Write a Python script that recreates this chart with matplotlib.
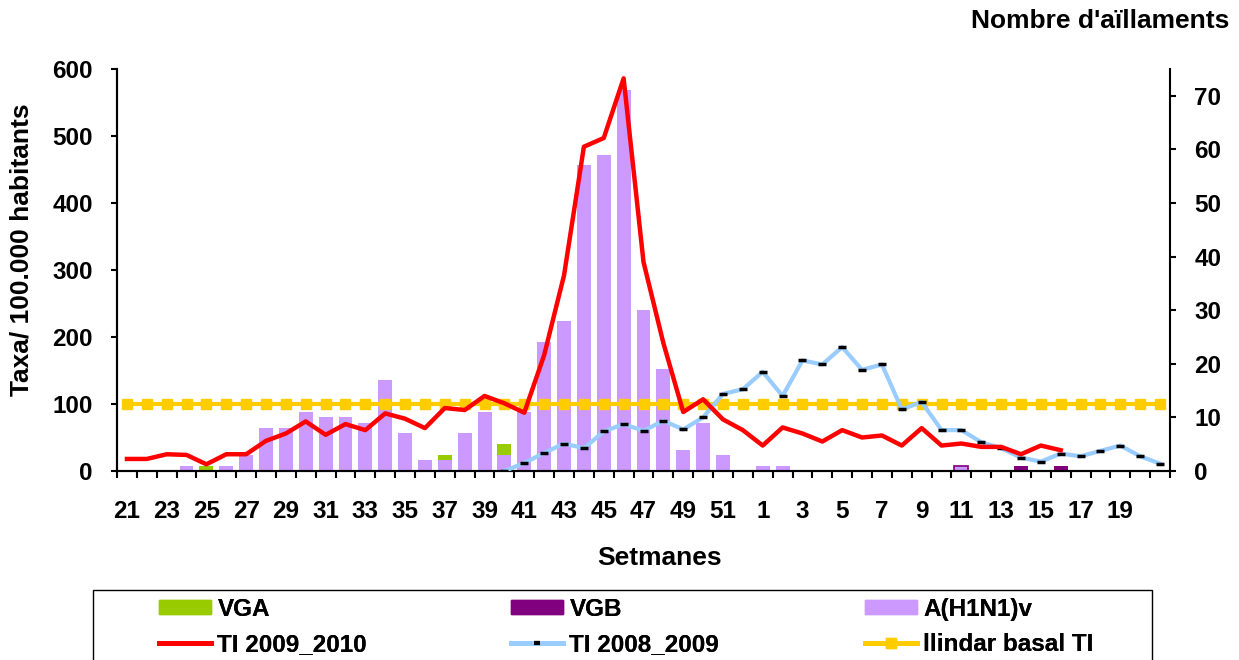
import matplotlib
matplotlib.use('Agg')
import matplotlib.pyplot as plt
import matplotlib.patches as patches
from matplotlib.lines import Line2D
import numpy as np

plt.rcParams['font.family'] = ['Liberation Sans', 'DejaVu Sans']
plt.rcParams['font.weight'] = 'bold'

# ========== Data ==========
weeks = list(range(21, 53)) + list(range(1, 22))

# isolations (right axis)
h1n1 = [0, 0, 0, 1, 0, 1, 3, 8, 8, 11, 10, 10, 9, 17, 7, 2, 2, 7, 11, 3,
        11, 24, 28, 57, 59, 71, 30, 19, 4, 9, 3, 0,
        1, 1, 0, 0, 0, 0, 0, 0, 0, 0, 1, 0, 0, 0, 0, 0, 0, 0, 0, 0, 0]
vga = [0, 0, 0, 0, 1, 0, 0, 0, 0, 0, 0, 0, 0, 0, 0, 0, 1, 0, 0, 2,
       0, 0, 0, 0, 0, 0, 0, 0, 0, 0, 0, 0,
       0, 0, 0, 0, 0, 0, 0, 0, 0, 0, 0, 0, 0, 0, 0, 0, 0, 0, 0, 0, 0]
vgb = [0, 0, 0, 0, 0, 0, 0, 0, 0, 0, 0, 0, 0, 0, 0, 0, 0, 0, 0, 0,
       0, 0, 0, 0, 0, 0, 0, 0, 0, 0, 0, 0,
       0, 0, 0, 0, 0, 0, 0, 0, 0, 0, 0, 0, 0, 1, 0, 1, 0, 0, 0, 0, 0]

# rates per 100.000 (left axis)
ti_0910 = [18, 18, 25, 24, 10, 25, 25, 45, 56, 74, 54, 70, 61, 86, 78, 64, 94, 91, 112, 101,
           87, 173, 292, 484, 497, 586, 312, 191, 88, 107, 77, 61,
           38, 65, 56, 44, 61, 50, 53, 38, 64, 38, 41, 36, 36, 25, 38, 31]
ti_0809 = [None] * 19 + [0, 12, 27, 41, 34, 59, 70, 60, 75, 62, 80, 115, 122,
                         148, 112, 165, 159, 185, 151, 159, 92, 103, 61, 61, 43, 34, 20, 14, 26,
                         22, 30, 38, 22, 11]
threshold = [100] * len(weeks)

x = np.arange(len(weeks))
W, H = 1239, 660
FS = 17.5

# ========== Figure ==========
fig = plt.figure(figsize=(W / 100, H / 100), dpi=100)
ax = fig.add_axes([117 / W, 1 - 471 / H, (1170 - 117) / W, (471 - 69) / H])
ax2 = ax.twinx()
ax.set_zorder(ax2.get_zorder() + 1)
ax.patch.set_visible(False)

# bars on right axis
bw = 0.7
h1n1_a = np.array(h1n1)
vga_a = np.array(vga)
vgb_a = np.array(vgb)
ax2.bar(x, h1n1_a, bw, color='#CC99FF', edgecolor='none')
ax2.bar(x, vga_a, bw, bottom=h1n1_a, color='#99CC00', edgecolor='none')
ax2.bar(x, vgb_a, bw, bottom=h1n1_a + vga_a, color='#800080', edgecolor='none')
# week 11 bar has a purple outline
i11 = weeks.index(11, 32)
ax2.bar([x[i11]], [h1n1[i11]], bw, color='#CC99FF', edgecolor='#800080', linewidth=1.2)

# lines on left axis
ax.plot(x, threshold, color='#FFCC00', linewidth=3, marker='s', markersize=7,
        markeredgecolor='#FFCC00', zorder=3)
ax.plot(x[:len(ti_0910)], ti_0910, color='#FF0000', linewidth=3.2, zorder=4)
ti_0809_x = [i for i, v in enumerate(ti_0809) if v is not None]
ti_0809_y = [v for v in ti_0809 if v is not None]
ax.plot(ti_0809_x, ti_0809_y, color='#99CCFF', linewidth=3, marker='_', markersize=6,
        markeredgecolor='black', markeredgewidth=2.5, zorder=3.5)

# axes
ax.set_xlim(-0.5, len(weeks) - 0.5)
ax.set_ylim(0, 600)
ax2.set_ylim(0, 75)
ax.set_yticks(range(0, 601, 100))
ax2.set_yticks(range(0, 71, 10))

ax.set_xticks(np.arange(-0.5, len(weeks), 1))
ax.set_xticklabels([])
lab_pos = [i for i in range(0, len(weeks) - 1, 2)]
ax.set_xticks(lab_pos, minor=True)
ax.set_xticklabels([str(weeks[i]) for i in lab_pos], minor=True)
ax.tick_params(axis='x', which='major', length=5, width=1.5, direction='out')
ax.tick_params(axis='x', which='minor', length=0, pad=21, labelsize=FS)
ax.tick_params(axis='y', length=4.5, width=1.5, labelsize=FS, pad=13)
ax2.tick_params(axis='y', length=4.5, width=1.5, labelsize=FS, pad=13)

for a in (ax, ax2):
    a.spines['top'].set_visible(False)
    for s in ('left', 'right', 'bottom'):
        a.spines[s].set_linewidth(1.5)
ax.spines['right'].set_visible(False)

for lbl in ax.get_xticklabels(minor=True) + ax.get_yticklabels() + ax2.get_yticklabels():
    lbl.set_fontweight('bold')

fig.text(22 / W, 1 - 250 / H, 'Taxa/ 100.000 habitants', rotation=90,
         ha='center', va='center', fontsize=19, fontweight='bold')
fig.text(660 / W, 1 - 558 / H, 'Setmanes', ha='center', va='center',
         fontsize=19, fontweight='bold')
fig.text(1229 / W, 1 - 21 / H, "Nombre d'aïllaments", ha='right', va='center',
         fontsize=19, fontweight='bold')

# legend: frame + three columns
frame = patches.Rectangle((93 / W, -0.05), (1152 - 93) / W, 0.05 + 1 - 590 / H,
                          transform=fig.transFigure, fill=False, edgecolor='black',
                          linewidth=1.0)
fig.add_artist(frame)

cols = [
    (159, [patches.Patch(color='#99CC00'),
           Line2D([], [], color='#FF0000', linewidth=3.5)],
     ['VGA', 'TI 2009_2010']),
    (511, [patches.Patch(color='#800080'),
           Line2D([], [], color='#99CCFF', linewidth=3.5, marker='_', markersize=5,
                  markeredgecolor='black', markeredgewidth=3)],
     ['VGB', 'TI 2008_2009']),
    (865, [patches.Patch(color='#CC99FF'),
           Line2D([], [], color='#FFCC00', linewidth=3.5, marker='s', markersize=7)],
     ['A(H1N1)v', 'llindar basal TI']),
]
for xpx, hs, ls in cols:
    leg = fig.legend(hs, ls, loc='upper left', bbox_to_anchor=(xpx / W, 1 - 598 / H),
                     frameon=False, prop={'weight': 'bold', 'size': FS},
                     handlelength=2.15, handleheight=0.5, borderpad=0, numpoints=1,
                     borderaxespad=0, labelspacing=0.5, handletextpad=0.25)
    fig.add_artist(leg)

fig.savefig('out.png', dpi=100)
